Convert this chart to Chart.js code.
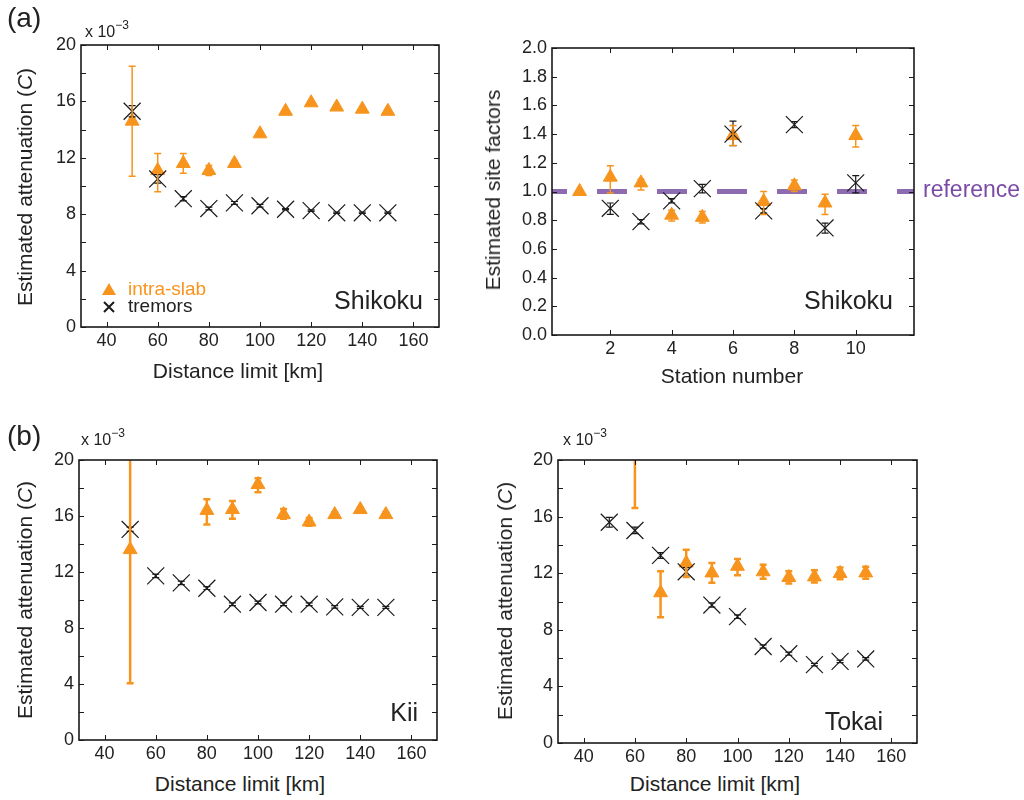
<!DOCTYPE html>
<html>
<head>
<meta charset="utf-8">
<script src="https://cdn.jsdelivr.net/npm/chart.js@4.4.1/dist/chart.umd.min.js"></script>
<style>
  body { margin: 0; background: #fff; font-family: 'Liberation Sans', Arial, sans-serif; color: #222; }
  #wrap { position: relative; width: 1024px; height: 800px; overflow: hidden; }
  canvas { position: absolute; }
  .lbl { position: absolute; white-space: nowrap; color: #222; }
  .ttl { font-size: 21px; transform: translate(-50%, -50%); }
  .ytl { font-size: 21px; transform: translate(-50%, -50%) rotate(-90deg); }
  .tag { font-size: 28px; }
  .mult { font-size: 16px; }
  .mult sup { font-size: 12px; position: relative; top: -2px; }
</style>
</head>
<body>
<div id="wrap">
  <canvas id="c1" width="470" height="350" style="left:0;top:20px"></canvas>
  <canvas id="c2" width="554" height="350" style="left:470px;top:20px"></canvas>
  <canvas id="c3" width="470" height="330" style="left:0;top:435px"></canvas>
  <canvas id="c4" width="554" height="330" style="left:470px;top:435px"></canvas>

  <div class="lbl tag" style="left:7px;top:2px">(a)</div>
  <div class="lbl tag" style="left:7px;top:420px">(b)</div>
  <div class="lbl mult" style="left:85px;top:20px">x 10<sup>−3</sup></div>
  <div class="lbl mult" style="left:81px;top:428px">x 10<sup>−3</sup></div>
  <div class="lbl mult" style="left:563px;top:428px">x 10<sup>−3</sup></div>

  <div class="lbl ytl" style="left:25px;top:187px">Estimated attenuation (<i>C</i>)</div>
  <div class="lbl ytl" style="left:493px;top:190px">Estimated site factors</div>
  <div class="lbl ytl" style="left:25px;top:600px">Estimated attenuation (<i>C</i>)</div>
  <div class="lbl ytl" style="left:505px;top:601px">Estimated attenuation (<i>C</i>)</div>

  <div class="lbl ttl" style="left:238px;top:371px">Distance limit [km]</div>
  <div class="lbl ttl" style="left:732px;top:376px">Station number</div>
  <div class="lbl ttl" style="left:240px;top:784px">Distance limit [km]</div>
  <div class="lbl ttl" style="left:715px;top:784px">Distance limit [km]</div>
</div>

<script>
// ---- data (attenuation in units of 1e-3) ----
const distKm = [50, 60, 70, 80, 90, 100, 110, 120, 130, 140, 150];
const stationNo = [1, 2, 3, 4, 5, 6, 7, 8, 9, 10];
const stationTremor = [2, 3, 4, 5, 6, 7, 8, 9, 10];

// tick positions
const distTicks = [40, 60, 80, 100, 120, 140, 160];
const stationTicks = [2, 4, 6, 8, 10];
const attenTicks = [0, 2, 4, 6, 8, 10, 12, 14, 16, 18, 20];
const siteTicks = [0, 0.2, 0.4, 0.6, 0.8, 1.0, 1.2, 1.4, 1.6, 1.8, 2.0];

// Shikoku attenuation
const shikokuSlab = [14.6, 11.1, 11.6, 11.1, 11.6, 13.7, 15.3, 15.9, 15.6, 15.45, 15.3];
const shikokuSlabLo = [10.7, 9.6, 10.9, 10.75, 11.4, 13.55, 15.2, 15.8, 15.5, 15.35, 15.2];
const shikokuSlabHi = [18.5, 12.3, 12.3, 11.45, 11.8, 13.85, 15.4, 16.0, 15.7, 15.55, 15.4];
const shikokuTremor = [15.3, 10.5, 9.1, 8.4, 8.8, 8.6, 8.35, 8.25, 8.1, 8.1, 8.1];
const shikokuTremorLo = [14.9, 10.2, 8.95, 8.3, 8.7, 8.5, 8.3, 8.2, 8.05, 8.05, 8.05];
const shikokuTremorHi = [15.7, 10.8, 9.25, 8.5, 8.9, 8.7, 8.4, 8.3, 8.15, 8.15, 8.15];

// Shikoku site factors
const siteSlab = [1.0, 1.10, 1.06, 0.835, 0.82, 1.39, 0.93, 1.04, 0.92, 1.39];
const siteSlabLo = [0.99, 0.99, 1.01, 0.795, 0.78, 1.32, 0.84, 1.0, 0.84, 1.31];
const siteSlabHi = [1.01, 1.18, 1.086, 0.87, 0.86, 1.46, 1.0, 1.08, 0.98, 1.46];
const siteTremor = [0.883, 0.79, 0.935, 1.02, 1.40, 0.865, 1.466, 0.746, 1.06];
const siteTremorLo = [0.84, 0.775, 0.92, 0.99, 1.32, 0.85, 1.445, 0.71, 0.99];
const siteTremorHi = [0.92, 0.805, 0.95, 1.05, 1.49, 0.88, 1.487, 0.78, 1.11];
const refLevel = [1.0, 1.0];

// Kii attenuation
const kiiSlabDist = [50, 80, 90, 100, 110, 120, 130, 140, 150];
const kiiSlab = [13.6, 16.4, 16.46, 18.25, 16.1, 15.57, 16.1, 16.46, 16.1];
const kiiSlabLo = [4.05, 15.4, 15.8, 17.7, 15.8, 15.3, 15.95, 16.3, 15.95];
const kiiSlabHi = [23.2, 17.2, 17.07, 18.7, 16.5, 15.86, 16.25, 16.6, 16.25];
const kiiTremor = [15.04, 11.72, 11.22, 10.84, 9.7, 9.82, 9.7, 9.7, 9.51, 9.47, 9.47];
const kiiTremorLo = [14.9, 11.6, 11.1, 10.75, 9.6, 9.72, 9.6, 9.6, 9.42, 9.4, 9.4];
const kiiTremorHi = [15.2, 11.85, 11.35, 10.95, 9.8, 9.92, 9.8, 9.8, 9.6, 9.55, 9.55];

// Tokai attenuation
const tokaiSlabDist = [60, 70, 80, 90, 100, 110, 120, 130, 140, 150];
const tokaiSlab = [21.5, 10.62, 12.72, 12.02, 12.49, 12.1, 11.7, 11.74, 11.98, 12.02];
const tokaiSlabLo = [16.6, 8.89, 11.74, 11.32, 11.86, 11.6, 11.27, 11.34, 11.58, 11.6];
const tokaiSlabHi = [26.4, 12.14, 13.66, 12.72, 13.0, 12.6, 12.14, 12.2, 12.4, 12.45];
const tokaiTremor = [15.6, 15.02, 13.26, 12.1, 9.75, 8.93, 6.82, 6.31, 5.54, 5.77, 5.94];
const tokaiTremorLo = [15.25, 14.8, 13.05, 11.8, 9.6, 8.8, 6.7, 6.2, 5.45, 5.68, 5.85];
const tokaiTremorHi = [15.95, 15.25, 13.45, 12.4, 9.9, 9.06, 6.94, 6.42, 5.63, 5.86, 6.03];

// ---- styling ----
const ORANGE = '#F7941D';
const INK = '#1a1a1a';
const PURPLE = '#8C6BB1';
Chart.defaults.font.family = "'Liberation Sans', Arial, sans-serif";
Chart.defaults.color = '#222';

const pts = (xs, ys) => xs.map((x, i) => ({ x, y: ys[i] }));

const slabSet = (xs, ys, lo, hi, errWidth) => ({
  label: 'intra-slab', data: pts(xs, ys), errLo: lo, errHi: hi, errWidth: errWidth || 1.5,
  pointStyle: 'triangle', pointRadius: 8, backgroundColor: ORANGE, borderColor: ORANGE, borderWidth: 1, clip: 0
});
const tremorSet = (xs, ys, lo, hi) => ({
  label: 'tremors', data: pts(xs, ys), errLo: lo, errHi: hi, errWidth: 1.2,
  pointStyle: 'crossRot', pointRadius: 12, borderColor: INK, borderWidth: 1.2, clip: 0
});

// inward ticks on all four sides + box
const boxTicks = {
  id: 'boxTicks',
  afterDraw(chart) {
    const { ctx, chartArea: a, scales: { x, y } } = chart;
    ctx.save();
    ctx.strokeStyle = INK;
    ctx.lineWidth = 1;
    ctx.beginPath();
    x.ticks.forEach(t => {
      const px = Math.round(x.getPixelForValue(t.value)) + 0.5;
      ctx.moveTo(px, a.bottom); ctx.lineTo(px, a.bottom - 5);
      ctx.moveTo(px, a.top); ctx.lineTo(px, a.top + 5);
    });
    y.ticks.forEach(t => {
      const py = Math.round(y.getPixelForValue(t.value)) + 0.5;
      ctx.moveTo(a.left, py); ctx.lineTo(a.left + 5, py);
      ctx.moveTo(a.right, py); ctx.lineTo(a.right - 5, py);
    });
    ctx.stroke();
    ctx.lineWidth = 1.6;
    ctx.strokeRect(a.left, a.top, a.width, a.height);
    ctx.restore();
  }
};

const errorBars = {
  id: 'errorBars',
  afterDatasetsDraw(chart) {
    const { ctx, chartArea: a, scales: { x, y } } = chart;
    ctx.save();
    ctx.beginPath();
    ctx.rect(a.left, a.top, a.width, a.height);
    ctx.clip();
    chart.data.datasets.forEach(ds => {
      if (!ds.errLo) return;
      ctx.strokeStyle = ds.borderColor;
      ctx.lineWidth = ds.errWidth;
      ctx.beginPath();
      ds.data.forEach((p, i) => {
        const px = x.getPixelForValue(p.x);
        const lo = y.getPixelForValue(ds.errLo[i]);
        const hi = y.getPixelForValue(ds.errHi[i]);
        ctx.moveTo(px, lo); ctx.lineTo(px, hi);
        ctx.moveTo(px - 3.5, lo); ctx.lineTo(px + 3.5, lo);
        ctx.moveTo(px - 3.5, hi); ctx.lineTo(px + 3.5, hi);
      });
      ctx.stroke();
    });
    ctx.restore();
  }
};

// region name in the lower-right corner
const panelName = {
  id: 'panelName',
  afterDraw(chart, args, opts) {
    if (!opts.text) return;
    const { ctx, chartArea: a } = chart;
    ctx.save();
    ctx.font = "25px 'Liberation Sans', Arial, sans-serif";
    ctx.fillStyle = '#222';
    ctx.textAlign = 'right';
    ctx.textBaseline = 'alphabetic';
    ctx.fillText(opts.text, a.right - opts.dx, a.bottom - opts.dy);
    ctx.restore();
  }
};

// small legend inside panel (a) left
const innerLegend = {
  id: 'innerLegend',
  afterDraw(chart) {
    const { ctx, chartArea: a } = chart;
    const x0 = a.left + 28, y1 = a.bottom - 37, y2 = a.bottom - 20;
    ctx.save();
    ctx.fillStyle = ORANGE;
    ctx.beginPath();
    ctx.moveTo(x0, y1 - 7); ctx.lineTo(x0 + 7, y1 + 5); ctx.lineTo(x0 - 7, y1 + 5); ctx.closePath();
    ctx.fill();
    ctx.strokeStyle = INK;
    ctx.lineWidth = 2;
    ctx.beginPath();
    ctx.moveTo(x0 - 5, y2 - 5); ctx.lineTo(x0 + 5, y2 + 5);
    ctx.moveTo(x0 + 5, y2 - 5); ctx.lineTo(x0 - 5, y2 + 5);
    ctx.stroke();
    ctx.font = "19px 'Liberation Sans', Arial, sans-serif";
    ctx.textBaseline = 'middle';
    ctx.fillStyle = ORANGE;
    ctx.fillText('intra-slab', x0 + 19, y1);
    ctx.fillStyle = '#222';
    ctx.fillText('tremors', x0 + 19, y2);
    ctx.restore();
  }
};

// "reference" label right of the dashed line
const refLabel = {
  id: 'refLabel',
  afterDraw(chart) {
    const { ctx, chartArea: a, scales: { y } } = chart;
    ctx.save();
    ctx.font = "23px 'Liberation Sans', Arial, sans-serif";
    ctx.fillStyle = '#7B4AA6';
    ctx.textBaseline = 'middle';
    ctx.fillText('reference', a.right + 9, y.getPixelForValue(refLevel[0]) - 1);
    ctx.restore();
  }
};

function makeChart(id, datasets, o) {
  return new Chart(document.getElementById(id), {
    type: 'scatter',
    data: { datasets },
    options: {
      responsive: false,
      animation: false,
      events: [],
      layout: { padding: { top: o.padTop, right: o.padRight, left: 0, bottom: 0 } },
      plugins: {
        legend: { display: false },
        tooltip: { enabled: false },
        panelName: o.name
      },
      scales: {
        x: {
          type: 'linear', min: o.xMin, max: o.xMax,
          grid: { display: false, drawTicks: false },
          border: { display: false },
          ticks: { autoSkip: false, maxRotation: 0, padding: 3, font: { size: 18 }, color: '#222' },
          afterBuildTicks: s => { s.ticks = o.xTicks.map(v => ({ value: v })); },
          afterFit: s => { s.height = o.xHeight; }
        },
        y: {
          type: 'linear', min: o.yMin, max: o.yMax,
          grid: { display: false, drawTicks: false },
          border: { display: false },
          ticks: { autoSkip: false, padding: 5, font: { size: 18 }, color: '#222', callback: o.yFmt },
          afterBuildTicks: s => { s.ticks = o.yTicks.map(v => ({ value: v })); },
          afterFit: s => { s.width = o.yWidth; }
        }
      }
    },
    plugins: [errorBars, boxTicks, panelName].concat(o.extra || [])
  });
}

const attenFmt = v => (Math.round(v) % 4 === 0 ? String(Math.round(v)) : '');
const siteFmt = v => Number(v).toFixed(1);

// (a) Shikoku attenuation
makeChart('c1', [
  tremorSet(distKm, shikokuTremor, shikokuTremorLo, shikokuTremorHi),
  slabSet(distKm, shikokuSlab, shikokuSlabLo, shikokuSlabHi, 1.5)
], {
  padTop: 25, padRight: 31, yWidth: 81, xHeight: 43,
  xMin: 30, xMax: 170, xTicks: distTicks, yMin: 0, yMax: 20, yTicks: attenTicks, yFmt: attenFmt,
  name: { text: 'Shikoku', dx: 16, dy: 18 }, extra: [innerLegend]
});

// (a) Shikoku site factors
makeChart('c2', [
  tremorSet(stationTremor, siteTremor, siteTremorLo, siteTremorHi),
  slabSet(stationNo, siteSlab, siteSlabLo, siteSlabHi, 1.5),
  {
    type: 'line', label: 'reference', data: pts([0.1, 11.9], refLevel),
    borderColor: PURPLE, borderWidth: 5, borderDash: [30, 30], borderDashOffset: 15,
    pointRadius: 0, fill: false
  }
], {
  padTop: 28, padRight: 110, yWidth: 82, xHeight: 35,
  xMin: 0.1, xMax: 11.9, xTicks: stationTicks, yMin: 0, yMax: 2, yTicks: siteTicks, yFmt: siteFmt,
  name: { text: 'Shikoku', dx: 21, dy: 26 }, extra: [refLabel]
});

// (b) Kii attenuation
makeChart('c3', [
  tremorSet(distKm, kiiTremor, kiiTremorLo, kiiTremorHi),
  slabSet(kiiSlabDist, kiiSlab, kiiSlabLo, kiiSlabHi, 2.5)
], {
  padTop: 25, padRight: 33, yWidth: 79, xHeight: 25,
  xMin: 30, xMax: 170, xTicks: distTicks, yMin: 0, yMax: 20, yTicks: attenTicks, yFmt: attenFmt,
  name: { text: 'Kii', dx: 19, dy: 19 }
});

// (b) Tokai attenuation
makeChart('c4', [
  tremorSet(distKm, tokaiTremor, tokaiTremorLo, tokaiTremorHi),
  slabSet(tokaiSlabDist, tokaiSlab, tokaiSlabLo, tokaiSlabHi, 2.5)
], {
  padTop: 25, padRight: 107, yWidth: 88, xHeight: 22,
  xMin: 30, xMax: 170, xTicks: distTicks, yMin: 0, yMax: 20, yTicks: attenTicks, yFmt: attenFmt,
  name: { text: 'Tokai', dx: 34, dy: 13 }
});
</script>
</body>
</html>
